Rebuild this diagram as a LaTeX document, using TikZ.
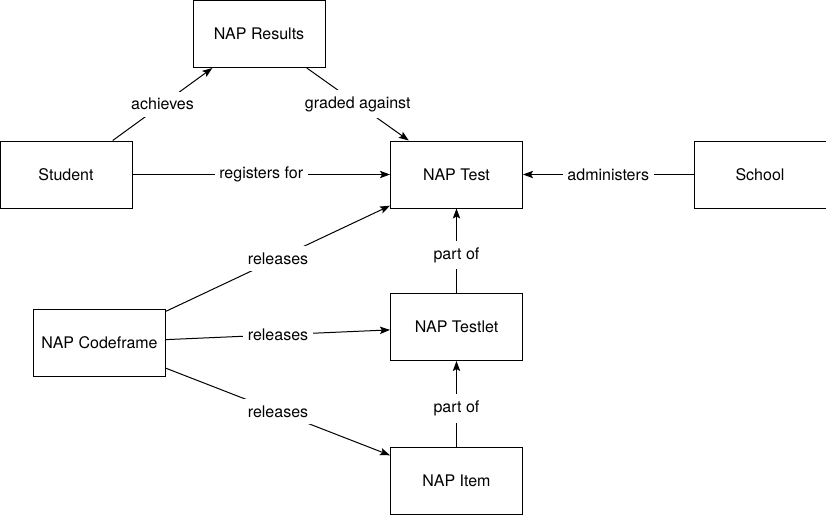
\documentclass[tikz,border=0pt]{standalone}
\usepackage{fontspec}
\setmainfont{TeX Gyre Heros}
\usetikzlibrary{arrows.meta}

\tikzset{
  entity/.style={draw, line width=0.75pt, minimum width=99pt, minimum height=50.25pt,
    font=\fontsize{12}{14}\selectfont},
  rel/.style={draw, line width=0.75pt, -{Stealth[length=7.5pt,width=5.5pt,inset=1.5pt]}},
  lbl/.style={fill=white, inner xsep=3.5pt, inner ysep=5pt, font=\fontsize{12}{14}\selectfont}
}

\begin{document}
\begin{tikzpicture}[x=0.75pt,y=-0.75pt]
\useasboundingbox (0,0) rectangle (826,515);

\node[entity] (results) at (259,34) {NAP Results};
\node[entity] (student) at (66,174.5) {Student};
\node[entity] (test) at (456.5,174.5) {NAP Test};
\node[entity] (school) at (760,174.5) {School};
\node[entity] (codeframe) at (99.5,342.5) {NAP Codeframe};
\node[entity] (testlet) at (456.5,327) {NAP Testlet};
\node[entity] (item) at (456.5,481) {NAP Item};

\draw[rel] (student) -- node[lbl] {achieves} (results);
\draw[rel] (results) -- node[lbl] {graded against} (test);
\draw[rel] (student) -- node[lbl] {registers for} (test);
\draw[rel] (school) -- node[lbl] {administers} (test);

\draw[rel] (codeframe) -- node[lbl] {releases} (test);
\draw[rel] (codeframe) -- node[lbl] {releases} (testlet);
\draw[rel] (codeframe) -- node[lbl] {releases} (item);

\draw[rel] (testlet) -- node[lbl, pos=0.45] {part of} (test);
\draw[rel] (item) -- node[lbl, pos=0.45] {part of} (testlet);
\end{tikzpicture}
\end{document}
